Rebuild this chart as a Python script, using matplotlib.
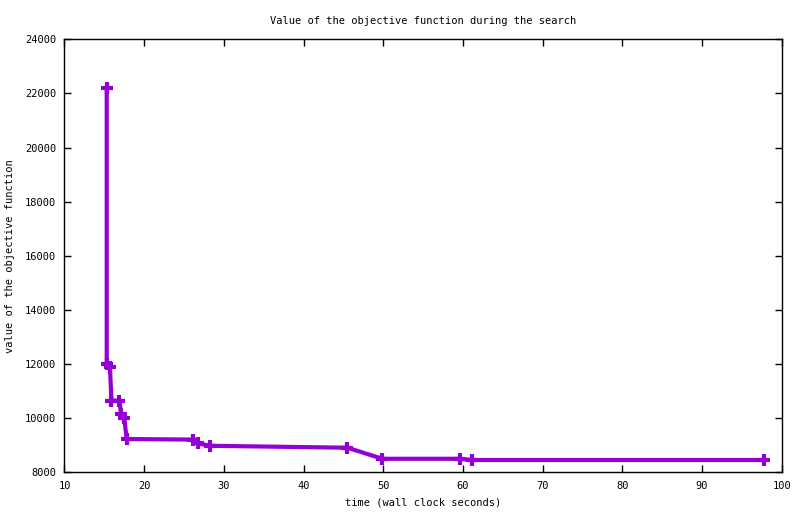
import matplotlib
matplotlib.use("Agg")
import matplotlib.pyplot as plt

# search log: wall clock time vs objective value
times = [15.3, 15.3, 15.7, 15.9, 16.9, 17.1, 17.5, 17.8,
         26.1, 26.7, 28.3, 45.5, 49.9, 59.6, 61.1, 97.8]
values = [22200, 12000, 11900, 10650, 10640, 10150, 10020, 9230,
          9210, 9070, 8980, 8910, 8500, 8500, 8455, 8455]

x_ticks = list(range(10, 101, 10))
y_ticks = list(range(8000, 24001, 2000))

plt.rcParams["font.family"] = "DejaVu Sans Mono"
plt.rcParams["font.size"] = 7.5

fig = plt.figure(figsize=(8.0, 5.14), dpi=100)
ax = fig.add_axes([0.0806, 0.0811, 0.8965, 0.8424])

ax.plot(times, values, color="#9400d3", linewidth=3.0,
        marker="+", markersize=9, markeredgewidth=3.0,
        solid_joinstyle="miter")

ax.set_xlim(10, 100)
ax.set_ylim(8000, 24000)
ax.set_xticks(x_ticks)
ax.set_yticks(y_ticks)
ax.tick_params(direction="in", length=5, width=1, top=True, right=True,
               labelsize=7.5, pad=6)
for spine in ax.spines.values():
    spine.set_linewidth(1)

ax.set_title("Value of the objective function during the search",
             fontsize=7.5, pad=11)
ax.set_xlabel("time (wall clock seconds)", labelpad=5)
ax.set_ylabel("value of the objective function", labelpad=7)

fig.savefig("out.png", dpi=100)
